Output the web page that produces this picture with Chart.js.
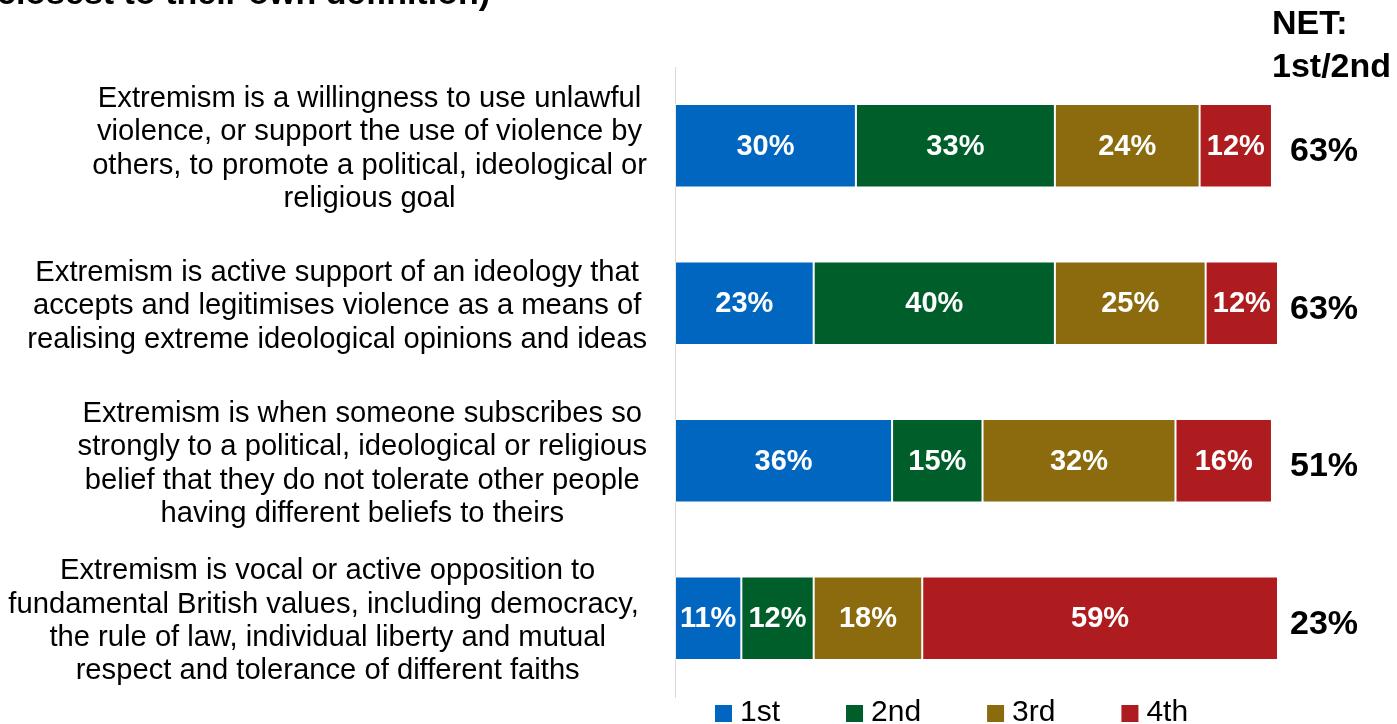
<!DOCTYPE html>
<html>
<head>
<meta charset="utf-8">
<script src="https://cdn.jsdelivr.net/npm/chart.js@4.4.0/dist/chart.umd.min.js"></script>
<style>
  html, body { margin: 0; padding: 0; background: #fff; }
</style>
</head>
<body>
<canvas id="myChart" width="1397" height="724"></canvas>
<script>
// definitions, one wrapped label per bar
const definitions = [
  ['Extremism is a willingness to use unlawful', 'violence, or support the use of violence by', 'others, to promote a political, ideological or', 'religious goal'],
  ['Extremism is active support of an ideology that', 'accepts and legitimises violence as a means of', 'realising extreme ideological opinions and ideas'],
  ['Extremism is when someone subscribes so', 'strongly to a political, ideological or religious', 'belief that they do not tolerate other people', 'having different beliefs to theirs'],
  ['Extremism is vocal or active opposition to', 'fundamental British values, including democracy, ', 'the rule of law, individual liberty and mutual', 'respect and tolerance of different faiths']
];
const rankNames = ['1st', '2nd', '3rd', '4th'];
const first = [30, 23, 36, 11];
const second = [33, 40, 15, 12];
const third = [24, 25, 32, 18];
const fourth = [12, 12, 16, 59];
const netValues = [63, 63, 51, 23];
const netHeader = ['NET:', '1st/2nd'];
const titleTail = 'closest to their own definition)';

const colors = ['#0066bf', '#005e2b', '#8b6b0e', '#ae1c1f'];
const FONT = '"Liberation Sans", Arial, sans-serif';

const ctx = document.getElementById('myChart');

const labelPlugin = {
  id: 'labelPlugin',
  afterDatasetsDraw(chart) {
    const c = chart.ctx;
    c.save();
    c.fillStyle = '#fff';
    c.font = 'bold 29px ' + FONT;
    c.textAlign = 'center';
    c.textBaseline = 'middle';
    chart.data.datasets.forEach((ds, di) => {
      const meta = chart.getDatasetMeta(di);
      meta.data.forEach((bar, i) => {
        c.fillText(ds.data[i] + '%', (bar.x + bar.base) / 2, bar.y + 1);
      });
    });
    c.restore();
  },
  afterDraw(chart) {
    const c = chart.ctx;
    const yScale = chart.scales.y;
    const area = chart.chartArea;
    c.save();
    c.fillStyle = '#000';

    // cut-off question text at the very top
    c.font = 'bold 34px ' + FONT;
    c.textAlign = 'left';
    c.textBaseline = 'alphabetic';
    c.fillText(titleTail, -3, 4);
    c.textBaseline = 'middle';

    // category labels: block right-aligned, lines centred inside it
    c.font = '29.2px ' + FONT;
    c.textAlign = 'center';
    const lineH = 33.4;
    definitions.forEach((lines, i) => {
      const yc = yScale.getPixelForTick(i);
      const w = Math.max(...lines.map(l => c.measureText(l).width));
      const xc = 647 - w / 2;
      const y0 = yc - (lines.length - 1) * lineH / 2 + 3;
      lines.forEach((l, k) => c.fillText(l, xc, y0 + k * lineH));
    });

    // NET column
    c.font = 'bold 34px ' + FONT;
    c.textAlign = 'left';
    c.fillText(netHeader[0], 1272, 25);
    c.fillText(netHeader[1], 1272, 68);
    netValues.forEach((v, i) => {
      c.fillText(v + '%', area.right + 12, yScale.getPixelForTick(i) + 6);
    });

    // legend along the bottom
    c.font = '30px ' + FONT;
    let x = 715;
    chart.data.datasets.forEach((ds) => {
      c.fillStyle = ds.backgroundColor;
      c.fillRect(x, 705, 17, 17);
      c.fillStyle = '#000';
      c.fillText(ds.label, x + 25, 713);
      x += 25 + c.measureText(ds.label).width + 66;
    });
    c.restore();
  }
};

const myChart = new Chart(ctx, {
  type: 'bar',
  data: {
    labels: definitions,
    datasets: [first, second, third, fourth].map((vals, i) => ({
      label: rankNames[i],
      data: vals,
      backgroundColor: colors[i],
      borderColor: 'rgba(255,255,255,0.45)',
      borderWidth: 1,
      borderSkipped: false
    }))
  },
  options: {
    indexAxis: 'y',
    responsive: false,
    animation: false,
    layout: {
      padding: {left: 675, right: 119, top: 67, bottom: 27}
    },
    datasets: {
      bar: {categoryPercentage: 0.53, barPercentage: 1}
    },
    scales: {
      x: {
        stacked: true,
        min: 0,
        max: 100,
        display: false
      },
      y: {
        stacked: true,
        ticks: {display: false},
        grid: {display: false, drawTicks: false},
        border: {display: true, color: '#d9d9d9', width: 1},
        afterFit(scale) { scale.width = 0; }
      }
    },
    plugins: {
      legend: {display: false},
      tooltip: {enabled: false}
    }
  },
  plugins: [labelPlugin]
});
</script>
</body>
</html>
